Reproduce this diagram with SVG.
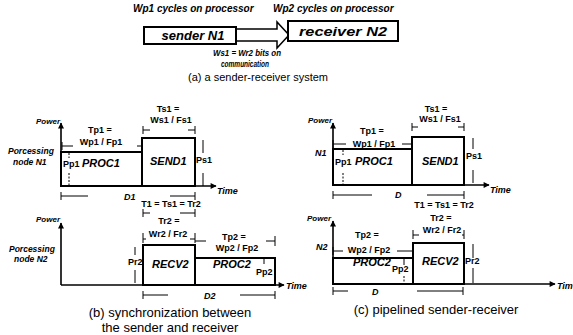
<svg xmlns="http://www.w3.org/2000/svg" width="573" height="335" viewBox="0 0 573 335">
<defs>
<marker id="ah" viewBox="0 0 10 10" refX="9" refY="5" markerWidth="7" markerHeight="6" orient="auto" markerUnits="userSpaceOnUse">
<path d="M0,0 L10,5 L0,10 z" fill="#000"/>
</marker>
</defs>
<style>
text { font-family: "Liberation Sans", Arial, sans-serif; fill: #000; }
.t { font-weight: bold; font-size: 9px; }
.m { text-anchor: middle; }
.bi { font-weight: bold; font-style: italic; font-size: 11px; }
.ax { font-weight: bold; font-style: italic; font-size: 8px; }
.sm { font-weight: bold; font-style: italic; font-size: 8.5px; }
.cap { font-size: 13px; text-anchor: middle; }
.box { fill: #fff; stroke: #000; stroke-width: 2; }
.axis { stroke: #000; stroke-width: 1.6; fill: none; marker-end: url(#ah); }
.dim { stroke: #000; stroke-width: 1; fill: none; }
.dot { stroke: #000; stroke-width: 1; stroke-dasharray: 2 1.5; fill: none; }
</style>

<!-- (a) sender-receiver system -->
<text class="bi" style="font-size:10px" x="133" y="12">Wp1 cycles on processor</text>
<text class="bi" style="font-size:10px" x="273" y="12">Wp2 cycles on processor</text>
<g id="connectors">
<polygon points="236,29 277,29 277,22 289,35 277,48 277,41 236,41" fill="#fff" stroke="#000" stroke-width="1.5"/>
</g>
<g id="sender">
<rect class="box" x="144" y="27" width="92" height="17"/>
<text class="bi" style="font-size:13px" x="193" y="40" text-anchor="middle">sender N1</text>
</g>
<g id="receiver">
<rect class="box" x="288" y="21" width="110" height="20"/>
<text class="bi" style="font-size:13px" x="343" y="36" text-anchor="middle" textLength="88" lengthAdjust="spacingAndGlyphs">receiver N2</text>
</g>
<text class="sm" style="font-size:9.5px" x="213" y="56" textLength="68" lengthAdjust="spacingAndGlyphs">Ws1 = Wr2 bits on</text>
<text class="sm" style="font-size:9.5px" x="221" y="67" textLength="48" lengthAdjust="spacingAndGlyphs">communication</text>
<text x="258" y="81" style="font-size:11px" text-anchor="middle">(a) a sender-receiver system</text>

<!-- (b) top: node N1 -->
<g id="b-n1">
<rect class="box" x="61" y="152" width="81" height="34"/>
<rect class="box" x="142" y="138" width="53" height="48"/>
<path class="axis" d="M61,186 V123"/>
<path class="axis" d="M61,186 H216"/>
<path class="dim" d="M62,142 V150 M62,146 H73 M137,146 H142"/>
<path class="dim" d="M143,126 V134 M143,130 H150 M188,130 H195 M195,126 V134"/>
<path class="dim" d="M61,192 V200 M61,196 H88 M170,196 H195 M195,192 V200"/>
<path class="dim" d="M143,209 V217 M143,213 H150 M180,213 H195 M195,209 V217"/>
<path class="dim" d="M203,140 V153 M203,173 V186"/>
<path class="dot" d="M69,153 V158 M69,173 V186"/>
<text class="ax" x="36" y="124">Power</text>
<text class="sm" x="8" y="154">Porcessing</text>
<text class="sm" x="13" y="165">node N1</text>
<text class="t m" x="100" y="133">Tp1 =</text>
<text class="t m" x="101" y="145">Wp1 / Fp1</text>
<text class="t m" x="168" y="112">Ts1 =</text>
<text class="t m" x="171" y="123">Ws1 / Fs1</text>
<text class="t" x="63" y="167">Pp1</text>
<text class="bi" x="82" y="167">PROC1</text>
<text class="bi" x="150" y="165">SEND1</text>
<text class="t" x="196" y="163">Ps1</text>
<text class="ax" style="font-size:9px" x="217" y="194">Time</text>
<text class="sm" style="font-size:9px" x="124" y="200">D1</text>
<text class="t m" x="171" y="207">T1 = Ts1 = Tr2</text>
</g>

<!-- (b) bottom: node N2 -->
<g id="b-n2">
<rect class="box" x="143" y="245" width="52" height="40"/>
<rect class="box" x="195" y="258" width="80" height="27"/>
<path class="axis" d="M61,285 V223"/>
<path class="axis" d="M61,285 H284"/>
<path class="dim" d="M135,247 V255 M135,270 V283"/>
<path class="dim" d="M264,259 V264"/>
<path class="dim" d="M143,233 V243 M143,239 H146 M190,239 H195 M195,233 V243"/>
<path class="dim" d="M195,241 H206 M266,241 H275 M275,236 V246"/>
<path class="dim" d="M143,291 V299 M143,295 H168 M240,295 H275 M275,291 V299"/>
<text class="ax" x="36" y="222">Power</text>
<text class="sm" x="9" y="252">Porcessing</text>
<text class="sm" x="14" y="262">node N2</text>
<text class="t" x="128" y="265">Pr2</text>
<text class="bi" x="152" y="268">RECV2</text>
<text class="bi" x="213" y="268">PROC2</text>
<text class="t" x="256" y="275">Pp2</text>
<text class="t m" x="169" y="224">Tr2 =</text>
<text class="t m" x="168" y="237">Wr2 / Fr2</text>
<text class="t m" x="234" y="240">Tp2 =</text>
<text class="t m" x="237" y="251">Wp2 / Fp2</text>
<text class="sm" style="font-size:9px" x="204" y="299">D2</text>
<text class="ax" style="font-size:9px" x="286" y="289">Time</text>
</g>
<text class="cap" x="170" y="317">(b) synchronization between</text>
<text class="cap" x="170" y="332">the sender and receiver</text>

<!-- (c) top: N1 -->
<g id="c-n1">
<rect class="box" x="333" y="149" width="79" height="36"/>
<rect class="box" x="412" y="137" width="52" height="48"/>
<path class="axis" d="M333,185 V123"/>
<path class="axis" d="M333,185 H489"/>
<path class="dim" d="M333,140 V148 M333,144 H346 M402,144 H411"/>
<path class="dim" d="M412,123 V131 M412,127 H418 M458,127 H464 M464,123 V131"/>
<path class="dim" d="M473,138 V149 M473,170 V183"/>
<path class="dim" d="M333,191 V199 M333,195 H372 M427,195 H464 M464,191 V199"/>
<path class="dot" d="M343,150 V155 M343,173 V185"/>
<text class="ax" x="308" y="123">Power</text>
<text class="sm" style="font-size:9px" x="315" y="156">N1</text>
<text class="t m" x="372" y="134">Tp1 =</text>
<text class="t m" x="374" y="147">Wp1 / Fp1</text>
<text class="t m" x="436" y="112">Ts1 =</text>
<text class="t m" x="440" y="122">Ws1 / Fs1</text>
<text class="t" x="335" y="165">Pp1</text>
<text class="bi" x="355" y="165">PROC1</text>
<text class="bi" x="422" y="165">SEND1</text>
<text class="t" x="466" y="159">Ps1</text>
<text class="ax" style="font-size:9px" x="490" y="193">Time</text>
<text class="sm" style="font-size:9px" x="395" y="198">D</text>
<text class="t m" x="444" y="208">T1 = Ts1 = Tr2</text>
</g>

<!-- (c) bottom: N2 -->
<g id="c-n2">
<rect class="box" x="333" y="258" width="80" height="26"/>
<rect class="box" x="413" y="243" width="51" height="41"/>
<path class="axis" d="M333,284 V221"/>
<path class="axis" d="M333,284 H555"/>
<path class="dim" d="M333,247 V255 M333,251 H343 M397,251 H412"/>
<path class="dim" d="M413,230 V239 M413,235 H419 M462,235 H464 M464,230 V239"/>
<path class="dim" d="M473,244 V258 M473,268 V283"/>
<path class="dim" d="M404,259 V265"/>
<path class="dot" d="M404,276 V284"/>
<path class="dim" d="M333,287 V295 M333,291 H348 M417,291 H463 M463,287 V295"/>
<text class="ax" x="307" y="221">Power</text>
<text class="sm" style="font-size:9px" x="316" y="250">N2</text>
<text class="t m" x="367" y="238">Tp2 =</text>
<text class="t m" x="369" y="253">Wp2 / Fp2</text>
<text class="bi" x="353" y="266">PROC2</text>
<text class="t" x="392" y="272">Pp2</text>
<text class="bi" x="422" y="265">RECV2</text>
<text class="t" x="465" y="264">Pr2</text>
<text class="t m" x="441" y="221">Tr2 =</text>
<text class="t m" x="442" y="233">Wr2 / Fr2</text>
<text class="sm" style="font-size:9px" x="372" y="295">D</text>
<text class="ax" style="font-size:9px" x="557" y="289">Tim</text>
</g>
<text class="cap" x="436" y="314">(c) pipelined sender-receiver</text>
</svg>
